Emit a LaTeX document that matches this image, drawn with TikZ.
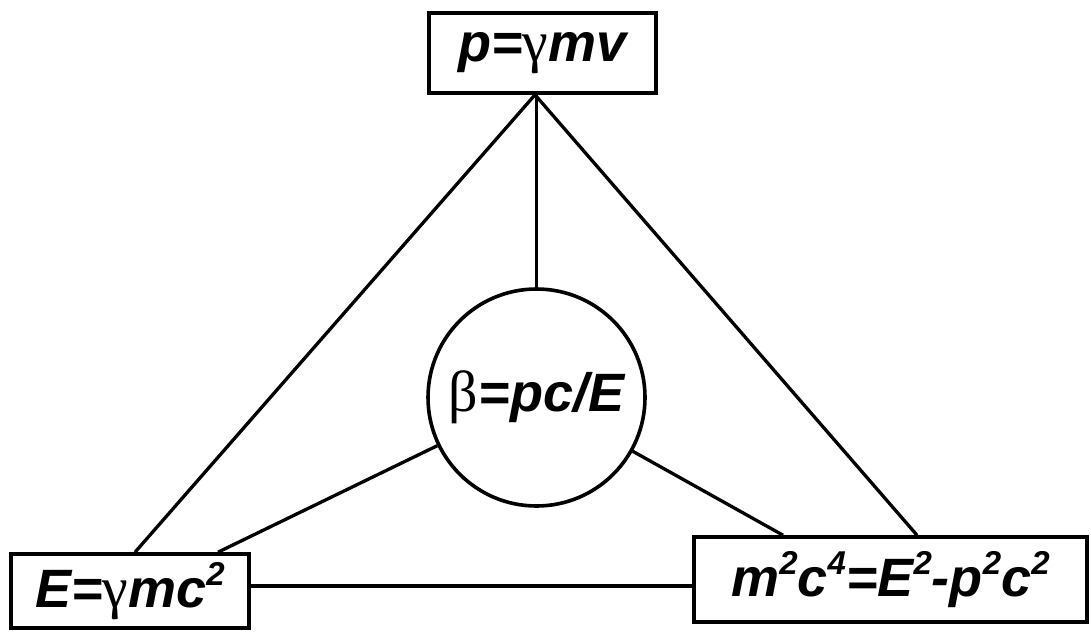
\documentclass[tikz,border=0pt]{standalone}
\usepackage{fontspec}
\setmainfont{Liberation Sans}
\newfontfamily\gkfont{Liberation Serif}
\newcommand{\gk}[1]{{\gkfont\upshape\mdseries\fontsize{58}{60}\selectfont #1}}
\newcommand{\spr}[1]{\raisebox{0.42em}{\fontsize{33}{33}\selectfont #1}}
\begin{document}
\begin{tikzpicture}[x=1pt,y=-1pt,
  formula/.style={font=\fontsize{54}{60}\selectfont\bfseries\itshape, inner sep=0pt},
  box/.style={formula, draw, line width=3.6pt, rectangle},
  circ/.style={formula, draw, line width=3.6pt, circle},
  link/.style={line width=3.3pt}]
\useasboundingbox (0,0) rectangle (1091,632);
\node[box, minimum width=227pt, minimum height=80pt] (top) at (542.5,53) {p=\gk{γ}mv};
\node[box, minimum width=238pt, minimum height=74pt] (left) at (130,591) {E=\gk{γ}mc\spr{2}};
\node[box, minimum width=393pt, minimum height=85pt] (right) at (890.5,579.5) {m\spr{2}c\spr{4}=E\spr{2}-p\spr{2}c\spr{2}};
\node[circ, minimum size=217pt] (mid) at (536.5,397.5) {\gk{β}=pc/E};
\draw[link] (mid.north) -- (mid.north |- top.south);
\draw[link] ([xshift=-7.5pt]top.south) -- ([xshift=5pt]left.north);
\draw[link] ([xshift=-7.5pt]top.south) -- ([xshift=26.5pt]right.north);
\draw[link] (mid) -- ([xshift=88pt]left.north);
\draw[link] (mid) -- ([xshift=-107.5pt]right.north);
\draw[link] ([yshift=5pt]left.east) -- ([yshift=-6.5pt]right.west);
\end{tikzpicture}
\end{document}
